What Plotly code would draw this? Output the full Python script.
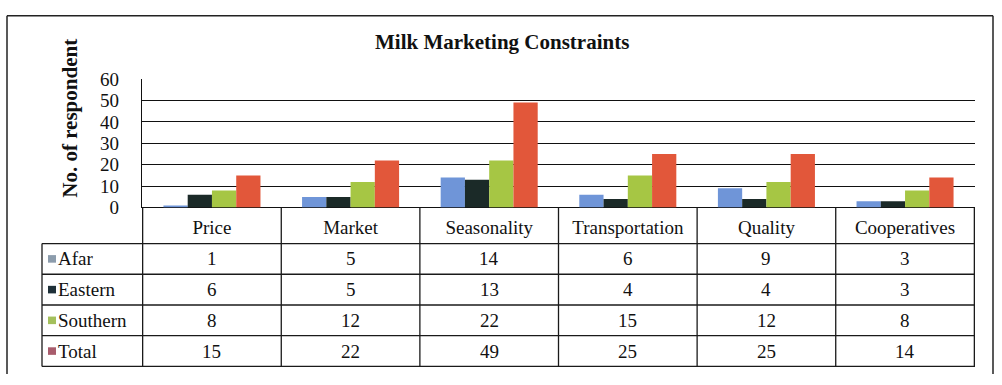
import plotly.graph_objects as go

categories = ["Price", "Market", "Seasonality", "Transportation", "Quality", "Cooperatives"]
series_names = ["Afar", "Eastern", "Southern", "Total"]
afar = [1, 5, 14, 6, 9, 3]
eastern = [6, 5, 13, 4, 4, 3]
southern = [8, 12, 22, 15, 12, 8]
total = [15, 22, 49, 25, 25, 14]
y_ticks = [0, 10, 20, 30, 40, 50, 60]

series_values = [afar, eastern, southern, total]
bar_colors = ["#6f95d8", "#1b2a28", "#a6c644", "#e2573a"]
key_colors = ["#8c9cac", "#1e3038", "#a4c05c", "#a85c6c"]

W, H = 1002, 385
FONT = "Liberation Serif"


def px(x):
    return x / W


def py(y):
    return 1 - y / H


PLOT_L, PLOT_R = 142, 975
PLOT_T, PLOT_B = 73, 209
TABLE_L = 42
ROW_EDGES = [247, 279.5, 312, 344.5, 377]

fig = go.Figure()
for name, vals, col in zip(series_names, series_values, bar_colors):
    fig.add_trace(go.Bar(x=categories, y=vals, name=name, marker=dict(color=col, line=dict(width=0))))

shapes = []
annotations = []
line = dict(color="#1a1a1a", width=1.3)

# outer frame
shapes.append(dict(type="line", xref="paper", yref="paper", x0=px(7), x1=px(993), y0=py(6), y1=py(6), line=dict(color="#222", width=1.5)))
shapes.append(dict(type="line", xref="paper", yref="paper", x0=px(7), x1=px(7), y0=py(6), y1=py(385), line=dict(color="#222", width=1.5)))
shapes.append(dict(type="line", xref="paper", yref="paper", x0=px(993), x1=px(993), y0=py(6), y1=py(385), line=dict(color="#222", width=1.5)))

# table vertical lines at category boundaries
for i in range(len(categories) + 1):
    shapes.append(dict(type="line", xref="x", yref="paper", x0=i - 0.5, x1=i - 0.5,
                       y0=py(PLOT_B), y1=py(ROW_EDGES[-1]), line=line))
shapes.append(dict(type="line", xref="paper", yref="paper", x0=px(TABLE_L), x1=px(TABLE_L),
                   y0=py(ROW_EDGES[0]), y1=py(ROW_EDGES[-1]), line=line))
for ye in ROW_EDGES:
    shapes.append(dict(type="line", xref="paper", yref="paper", x0=px(TABLE_L), x1=px(PLOT_R),
                       y0=py(ye), y1=py(ye), line=line))

# table rows
for r, (name, vals, kc) in enumerate(zip(series_names, series_values, key_colors)):
    yc = (ROW_EDGES[r] + ROW_EDGES[r + 1]) / 2
    shapes.append(dict(type="rect", xref="paper", yref="paper", x0=px(48), x1=px(56),
                       y0=py(yc - 4), y1=py(yc + 4), fillcolor=kc, line=dict(width=0)))
    annotations.append(dict(xref="paper", yref="paper", x=px(56), y=py(yc), text=name, showarrow=False,
                            xanchor="left", yanchor="middle", font=dict(family=FONT, size=19, color="#111")))
    for c, v in zip(categories, vals):
        annotations.append(dict(xref="x", yref="paper", x=c, y=py(yc), text=str(v), showarrow=False,
                                xanchor="center", yanchor="middle", font=dict(family=FONT, size=19, color="#111")))

# title and axis title
annotations.append(dict(xref="paper", yref="paper", x=px(502), y=py(34), text="<b>Milk Marketing Constraints</b>",
                        showarrow=False, xanchor="center", yanchor="middle", font=dict(family=FONT, size=21, color="#111")))
annotations.append(dict(xref="paper", yref="paper", x=px(70), y=py(115), text="<b>No. of respondent</b>",
                        textangle=-90, showarrow=False, xanchor="center", yanchor="middle",
                        font=dict(family=FONT, size=21, color="#111")))

fig.update_layout(
    width=W, height=H,
    margin=dict(l=0, r=0, t=0, b=0),
    paper_bgcolor="white", plot_bgcolor="white",
    showlegend=False,
    barmode="group", bargap=0.3, bargroupgap=0,
    shapes=shapes, annotations=annotations,
    font=dict(family=FONT, color="#111"),
    xaxis=dict(domain=[px(PLOT_L), px(PLOT_R)], showgrid=False, ticks="", showline=False, zeroline=False,
               tickfont=dict(family=FONT, size=19, color="#111"), ticklabelstandoff=6, fixedrange=True),
    yaxis=dict(domain=[py(PLOT_B), py(PLOT_T)], range=[0, 60], tickvals=y_ticks, showgrid=True,
               gridcolor="#111", gridwidth=1.3, zeroline=True, zerolinecolor="#111", zerolinewidth=1.3,
               showline=True, linecolor="#111", linewidth=1.3, ticks="", ticklabelstandoff=18,
               tickfont=dict(family=FONT, size=19, color="#111"), fixedrange=True),
)

fig.write_html("out.html")
